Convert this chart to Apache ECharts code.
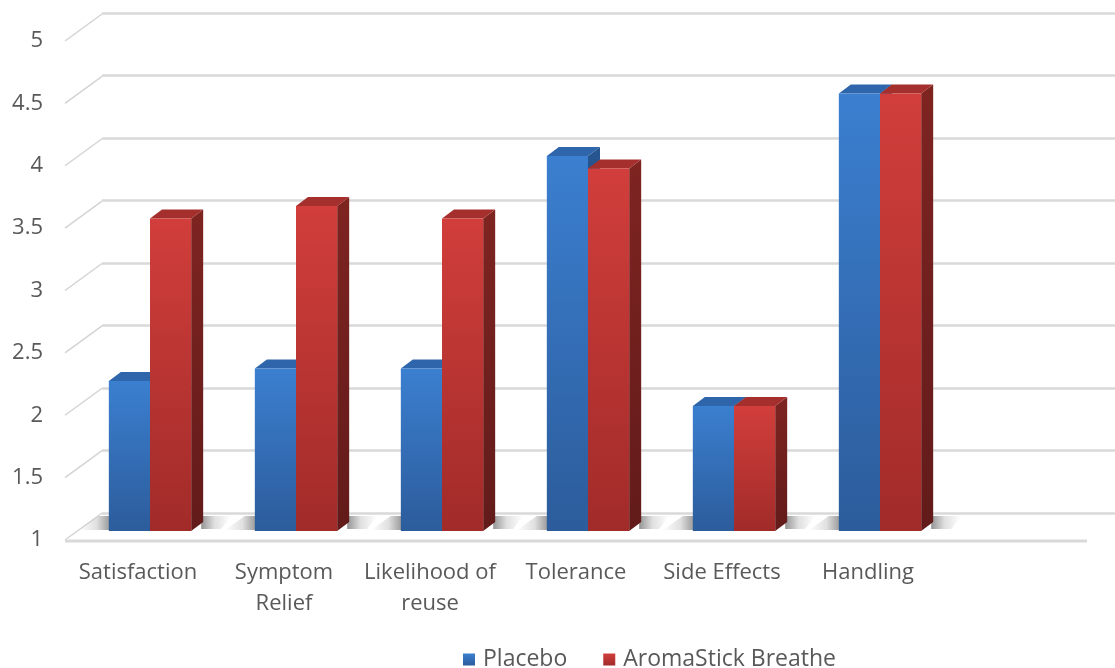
<!DOCTYPE html>
<html>
<head>
<meta charset="utf-8">
<script src="https://cdn.jsdelivr.net/npm/echarts@6/dist/echarts.min.js"></script>
<style>
html,body{margin:0;padding:0;background:#fff;}
#chart{width:1115px;height:668px;}
</style>
</head>
<body>
<div id="chart"></div>
<script>
// ---- data ----
const categories = ['Satisfaction', 'Symptom\nRelief', 'Likelihood of\nreuse', 'Tolerance', 'Side Effects', 'Handling'];
const seriesNames = ['Placebo', 'AromaStick Breathe'];
const placebo = [2.2, 2.3, 2.3, 4.0, 2.0, 4.5];
const aromaStick = [3.5, 3.6, 3.5, 3.9, 2.0, 4.5];
const yMin = 1, yMax = 5, yStep = 0.5;
const yTicks = [1, 1.5, 2, 2.5, 3, 3.5, 4, 4.5, 5];

// ---- layout / style constants ----
const axisCats = categories.concat(['']); // spare empty band on the right as in the original
const DEPTH_DX = 37, DEPTH_DY = -27;      // front plane -> back wall
const BAR_DX = 12, BAR_DY = -9;           // bar depth
const FONT = '"Open Sans", sans-serif';
const TXT = '#595959';

const faces = [
  { front: ['#3b7fd0', '#2c5c9b'], top: '#2f66ab', side: ['#27558f', '#1f4475'] },
  { front: ['#d13e3b', '#a12b29'], top: '#a52f2c', side: ['#7e2421', '#621b1a'] }
];

function vGrad(c) {
  return new echarts.graphic.LinearGradient(0, 0, 0, 1, [
    { offset: 0, color: c[0] }, { offset: 1, color: c[1] }
  ]);
}

function barRender(si) {
  return function (params, api) {
    const idx = api.value(0), v = api.value(1);
    const band = api.size([1, 0])[0];
    const w = band * 0.282;
    const top = api.coord([idx, v]);
    const base = api.coord([idx, yMin]);
    const x = si === 0 ? top[0] - w : top[0];
    const yt = top[1], yb = base[1];
    const f = faces[si];
    return {
      type: 'group',
      children: [
        { type: 'polygon', shape: { points: [[x + w, yt], [x + w + BAR_DX, yt + BAR_DY], [x + w + BAR_DX, yb + BAR_DY], [x + w, yb]] },
          style: { fill: vGrad(f.side) } },
        { type: 'polygon', shape: { points: [[x, yt], [x + w, yt], [x + w + BAR_DX, yt + BAR_DY], [x + BAR_DX, yt + BAR_DY]] },
          style: { fill: f.top } },
        { type: 'rect', shape: { x: x, y: yt, width: w, height: yb - yt },
          style: { fill: vGrad(f.front) } }
      ]
    };
  };
}

function shadowRender(params, api) {
  const idx = api.value(0);
  const band = api.size([1, 0])[0];
  const w = band * 0.282;
  const c = api.coord([idx, yMin]);
  const yb = c[1];
  const left = c[0] - w, right = c[0] + w + BAR_DX;
  const shade = (a, b) => new echarts.graphic.LinearGradient(a, 0, b, 0, [
    { offset: 0, color: 'rgba(0,0,0,0)' },
    { offset: 0.55, color: 'rgba(0,0,0,0.12)' },
    { offset: 1, color: 'rgba(0,0,0,0.42)' }
  ]);
  return {
    type: 'group',
    children: [
      { type: 'polygon', shape: { points: [[left - 30, yb - 1], [left + 2, yb - 1], [left + 2, yb - 15], [left - 10, yb - 15]] },
        style: { fill: shade(0, 1) } },
      { type: 'polygon', shape: { points: [[right - 2, yb - 2], [right + 18, yb - 2], [right + 28, yb - 15], [right - 2, yb - 15]] },
        style: { fill: shade(1, 0) } }
    ]
  };
}

function diagRender(params, api) {
  const v = api.value(1);
  const x0 = params.coordSys.x;
  const y = api.coord([0, v])[1];
  return {
    type: 'line',
    shape: { x1: x0, y1: y, x2: x0 + DEPTH_DX, y2: y + DEPTH_DY },
    style: { stroke: '#d4d4d4', lineWidth: 1.5 }
  };
}

function floorRender(params, api) {
  const cs = params.coordSys;
  const y = api.coord([0, yMin])[1];
  return {
    type: 'line',
    shape: { x1: cs.x, y1: y + 1, x2: cs.x + cs.width, y2: y + 1 },
    style: { stroke: '#d9d9d9', lineWidth: 3 }
  };
}

const chart = echarts.init(document.getElementById('chart'), null, { renderer: 'canvas' });

const yBase = { type: 'value', min: yMin, max: yMax, interval: yStep };

chart.setOption({
  animation: false,
  backgroundColor: '#ffffff',
  textStyle: { fontFamily: FONT },
  grid: [
    { left: 65, right: 28, top: 41, bottom: 128 },   // front plane
    { left: 102, right: -40, top: 13, bottom: 155 }, // back wall
    { left: 77, right: 16, top: 31, bottom: 137 }    // bar plane
  ],
  xAxis: [
    { gridIndex: 0, type: 'category', data: axisCats,
      axisLine: { show: false }, axisTick: { show: false },
      axisLabel: { color: TXT, fontSize: 22, fontFamily: FONT, lineHeight: 31, margin: 17, interval: 0 } },
    { gridIndex: 1, type: 'category', data: axisCats, show: false },
    { gridIndex: 2, type: 'category', data: axisCats, show: false }
  ],
  yAxis: [
    Object.assign({ gridIndex: 0 }, yBase, {
      axisLine: { show: false }, axisTick: { show: false }, splitLine: { show: false },
      axisLabel: { color: TXT, fontSize: 22, fontFamily: FONT, margin: 22 } }),
    Object.assign({ gridIndex: 1 }, yBase, {
      axisLine: { show: false }, axisTick: { show: false }, axisLabel: { show: false },
      splitLine: { show: true, lineStyle: { color: '#d9d9d9', width: 2.5 } } }),
    Object.assign({ gridIndex: 2 }, yBase, { show: false, splitLine: { show: false } })
  ],
  legend: {
    data: seriesNames,
    left: 458, top: 643,
    icon: 'rect', itemWidth: 12, itemHeight: 12, itemGap: 36,
    textStyle: { color: TXT, fontSize: 23, fontFamily: FONT, padding: [0, 0, 0, 3] }
  },
  series: [
    { type: 'custom', xAxisIndex: 0, yAxisIndex: 0, silent: true, z: 1,
      data: yTicks.map(v => [0, v]), renderItem: diagRender },
    { type: 'custom', xAxisIndex: 0, yAxisIndex: 0, silent: true, z: 1,
      data: [[0, yMin]], renderItem: floorRender },
    { type: 'custom', xAxisIndex: 2, yAxisIndex: 2, silent: true, z: 2,
      data: categories.map((c, i) => [i, yMin]), renderItem: shadowRender },
    { type: 'custom', name: seriesNames[0], xAxisIndex: 2, yAxisIndex: 2, z: 3,
      itemStyle: { color: vGrad(faces[0].front) },
      data: placebo.map((v, i) => [i, v]), renderItem: barRender(0) },
    { type: 'custom', name: seriesNames[1], xAxisIndex: 2, yAxisIndex: 2, z: 4,
      itemStyle: { color: vGrad(faces[1].front) },
      data: aromaStick.map((v, i) => [i, v]), renderItem: barRender(1) }
  ]
});
</script>
</body>
</html>
